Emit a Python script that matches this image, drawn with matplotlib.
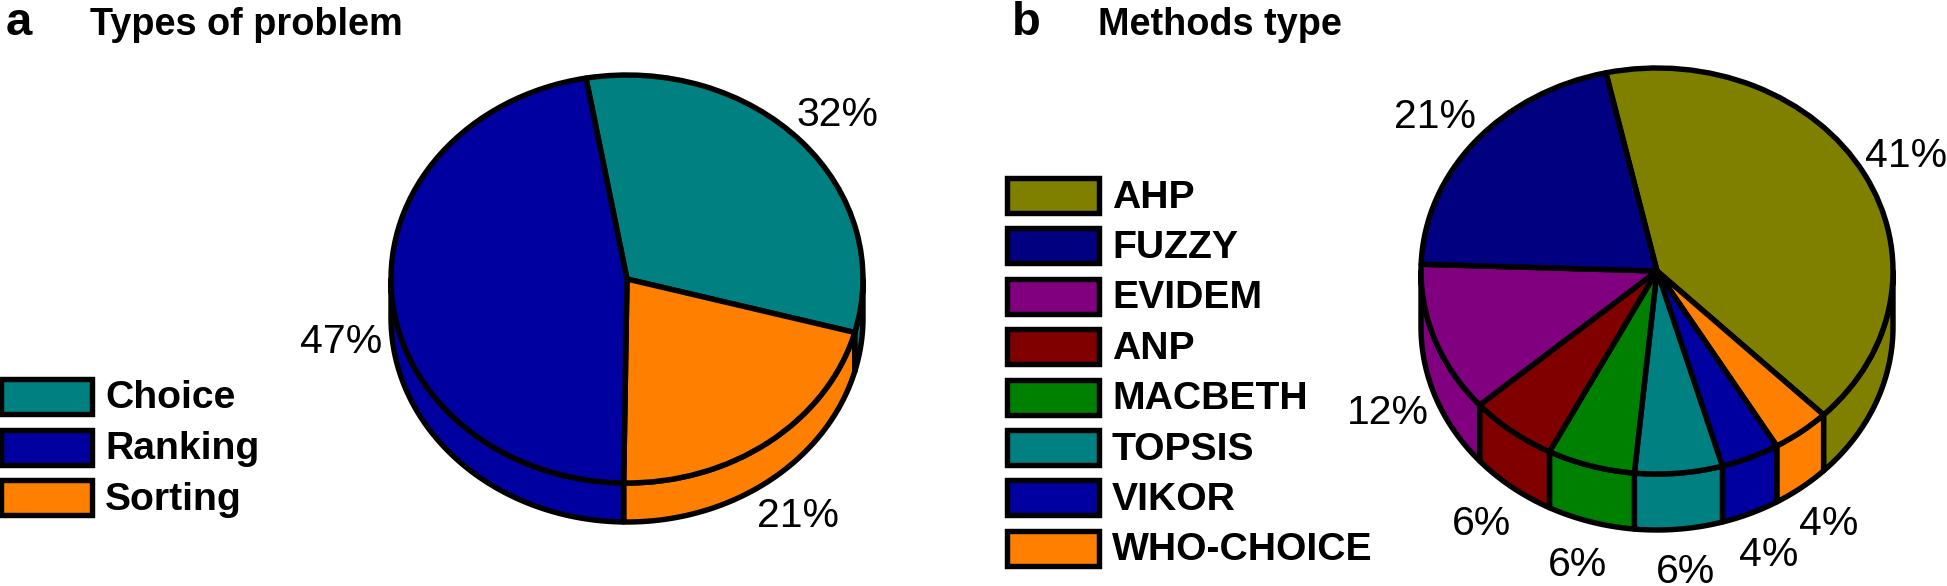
import numpy as np
import matplotlib
matplotlib.use("Agg")
import matplotlib.pyplot as plt
from matplotlib.patches import Polygon, Rectangle

plt.rcParams['font.family'] = ['Liberation Sans', 'DejaVu Sans']

W, H = 1947, 586
LW = 3.9

# Data
problem_labels = ['Choice', 'Ranking', 'Sorting']
problem_values = [32, 47, 21]
problem_colors = ['#008080', '#0000A0', '#FF8000']
# order on the pie is clockwise from the start angle
problem_order = [0, 2, 1]

method_labels = ['AHP', 'FUZZY', 'EVIDEM', 'ANP', 'MACBETH', 'TOPSIS', 'VIKOR', 'WHO-CHOICE']
method_values = [41, 21, 12, 6, 6, 6, 4, 4]
method_colors = ['#808000', '#000080', '#800080', '#800000', '#008000', '#008080', '#0000A0', '#FF8000']
# the pie runs the other way round from the legend here
method_order = [0, 7, 6, 5, 4, 3, 2, 1]

# Label positions in pixels
problem_label_xy = [(837, 115), (341, 342), (798, 516)]
method_label_xy = [(1906, 156), (1435, 117), (1388, 413), (1481, 524),
                   (1577, 565), (1686, 572), (1769, 555), (1829, 524)]


def DrawPie(fig, values, colors, order, start, cx, cy, rx, ry, depth):
    # Axes box is in pixels, one data unit is rx across and ry down.
    margin = 1.1
    d = depth / ry
    left = (cx - margin * rx) / W
    bottom = 1 - (cy + ry + depth + 0.1 * ry) / H
    width = 2 * margin * rx / W
    height = (2.1 * ry + depth + 0.1 * ry) / H
    ax = fig.add_axes([left, bottom, width, height])

    vals = [values[i] for i in order]
    cols = [colors[i] for i in order]
    ax.pie(vals, colors=cols, startangle=start, counterclock=False, radius=1,
           wedgeprops={'edgecolor': 'k', 'linewidth': LW, 'joinstyle': 'round'})
    ax.set_aspect('auto')
    ax.set_xlim(-margin, margin)
    ax.set_ylim(-1 - d - 0.1, 1.1)

    # Side wall, only the part of each slice facing the viewer (180 to 360 deg).
    a1 = start
    for v, c in zip(vals, cols):
        a0 = a1 - v / sum(vals) * 360
        for shift in (0, -360):
            lo = max(a0 + shift, -180)
            hi = min(a1 + shift, 0)
            if hi > lo:
                t = np.radians(np.linspace(lo, hi, 80))
                top = np.column_stack([np.cos(t), np.sin(t)])
                low = top[::-1] - [0, d]
                ax.add_patch(Polygon(np.vstack([top, low]), closed=True, facecolor=c,
                                     edgecolor='k', linewidth=LW, joinstyle='round',
                                     zorder=0.5, clip_on=False))
        a1 = a0
    return ax


fig = plt.figure(figsize=(W / 100, H / 100), dpi=100)

DrawPie(fig, problem_values, problem_colors, problem_order, 100, 627, 279, 236, 204, 39)
DrawPie(fig, method_values, method_colors, method_order, 102.5, 1657, 271, 236, 203, 56)

# Overlay in pixel coordinates for text and legends.
over = fig.add_axes([0, 0, 1, 1], facecolor='none')
over.set_xlim(0, W)
over.set_ylim(H, 0)
over.axis('off')

over.text(6, 35, 'a', fontsize=34, fontweight='bold', va='baseline')
over.text(90, 35, 'Types of problem', fontsize=27.3, fontweight='bold', va='baseline')
over.text(1012, 35, 'b', fontsize=34, fontweight='bold', va='baseline')
over.text(1098, 35, 'Methods type', fontsize=27.3, fontweight='bold', va='baseline')


def DrawLegend(labels, colors, x, y, w, h, step, tx):
    for i, (lab, c) in enumerate(zip(labels, colors)):
        over.add_patch(Rectangle((x, y + i * step), w, h, facecolor=c, edgecolor='k',
                                 linewidth=LW, clip_on=False))
        over.text(tx, y + i * step + h / 2 + 2, lab, fontsize=28.2, fontweight='bold',
                  va='center', ha='left')


DrawLegend(problem_labels, problem_colors, 1, 379, 91, 35, 50.5, 105)
DrawLegend(method_labels, method_colors, 1007, 178, 92, 35, 50.4, 1112)

for v, xy in zip(problem_values, problem_label_xy):
    over.text(xy[0], xy[1], str(v) + '%', fontsize=29.5, ha='center', va='center')
for v, xy in zip(method_values, method_label_xy):
    over.text(xy[0], xy[1], str(v) + '%', fontsize=29.5, ha='center', va='center')

fig.savefig('out.png', dpi=100)
